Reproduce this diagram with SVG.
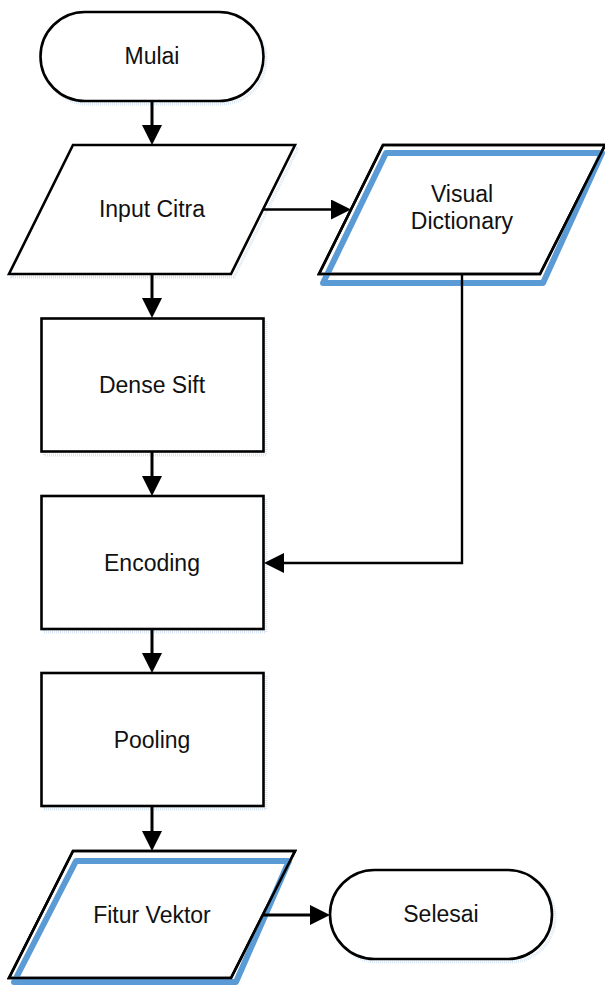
<svg xmlns="http://www.w3.org/2000/svg" width="605" height="985" viewBox="0 0 605 985">
  <style>
    .shape { fill: #ffffff; stroke: #000000; stroke-width: 2.6; stroke-linejoin: miter; }
    .haze { fill: none; stroke: #cfe0f1; stroke-width: 3; stroke-dasharray: 1 1; opacity: 0.8; }
    .accent { fill: none; stroke: #5b9bd5; stroke-width: 6; stroke-linejoin: round; stroke-linecap: round; }
    .label { font-family: "Liberation Sans", Arial, sans-serif; font-size: 23px; fill: #111111; text-anchor: middle; }
    .conn { fill: none; stroke: #000000; stroke-width: 3; }
    .conn-thin { fill: none; stroke: #000000; stroke-width: 2.4; }
  </style>
  <defs>
    <marker id="arrow" viewBox="0 -10 20 20" refX="0" refY="0" markerWidth="20" markerHeight="20" markerUnits="userSpaceOnUse" orient="auto">
      <path d="M0,-10 L20,0 L0,10 Z" fill="#000000"/>
    </marker>
  </defs>

  <rect width="605" height="985" fill="#ffffff"/>

  <!-- Start terminator -->
  <g id="mulai">
    <rect class="haze" x="43" y="15" width="223" height="89" rx="44.5"/>
    <rect class="shape" x="40.5" y="12" width="223" height="89" rx="44.5"/>
    <text class="label" x="152" y="64">Mulai</text>
  </g>

  <!-- Input image -->
  <g id="input-citra">
    <polygon class="haze" points="76,148 298,148 234,277 12,277"/>
    <polygon class="shape" points="73,145 295,145 231,274 9,274"/>
    <text class="label" x="152" y="217">Input Citra</text>
  </g>

  <!-- Visual dictionary data store -->
  <g id="visual-dictionary">
    <polygon class="shape" points="383,145 605,145 540,274 319,274"/>
    <polygon class="accent" points="386,153 602,153 543,283 323,283"/>
    <polygon fill="none" stroke="#000000" stroke-width="2.6" points="383,145 605,145 540,274 319,274"/>
    <text class="label" x="462" y="202">Visual</text>
    <text class="label" x="462" y="229">Dictionary</text>
  </g>

  <!-- Dense SIFT -->
  <g id="dense-sift">
    <rect class="haze" x="44" y="321" width="222" height="134"/>
    <rect class="shape" x="41.5" y="318.5" width="222" height="133"/>
    <text class="label" x="152" y="393">Dense Sift</text>
  </g>

  <!-- Encoding -->
  <g id="encoding">
    <rect class="haze" x="44" y="499" width="222" height="133"/>
    <rect class="shape" x="41.5" y="496" width="222" height="133"/>
    <text class="label" x="152" y="571">Encoding</text>
  </g>

  <!-- Pooling -->
  <g id="pooling">
    <rect class="haze" x="44" y="676" width="222" height="133"/>
    <rect class="shape" x="41.5" y="673" width="222" height="133"/>
    <text class="label" x="152" y="748">Pooling</text>
  </g>

  <!-- Feature vector output -->
  <g id="fitur-vektor">
    <polygon class="shape" points="73,851 295,851 231,978 9,978"/>
    <polygon class="accent" points="76,861 289,861 236,982 14,982"/>
    <polygon fill="none" stroke="#000000" stroke-width="2.6" points="73,851 295,851 231,978 9,978"/>
    <text class="label" x="152" y="923">Fitur Vektor</text>
  </g>

  <!-- End terminator -->
  <g id="selesai">
    <rect class="haze" x="333" y="873" width="222" height="89" rx="44.5"/>
    <rect class="shape" x="330" y="870" width="222" height="89" rx="44.5"/>
    <text class="label" x="441" y="922">Selesai</text>
  </g>

  <!-- Connectors -->
  <g id="connectors">
    <path class="conn" d="M152,101 V125" marker-end="url(#arrow)"/>
    <path class="conn" d="M152,274 V298" marker-end="url(#arrow)"/>
    <path class="conn" d="M152,452 V476" marker-end="url(#arrow)"/>
    <path class="conn" d="M152,629 V653" marker-end="url(#arrow)"/>
    <path class="conn" d="M152,806 V831" marker-end="url(#arrow)"/>
    <path class="conn-thin" d="M263,209.5 H331" marker-end="url(#arrow)"/>
    <path class="conn-thin" d="M462,274 V563 H284" marker-end="url(#arrow)"/>
    <path class="conn" d="M263,915 H310" marker-end="url(#arrow)"/>
  </g>
</svg>
